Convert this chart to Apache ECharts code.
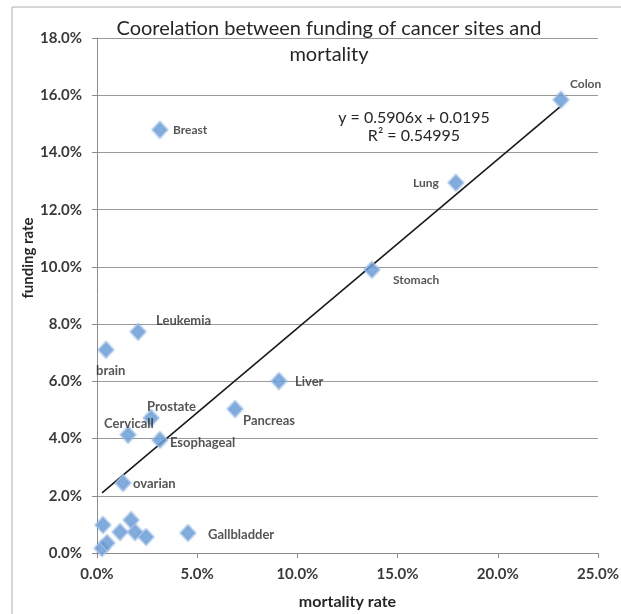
<!DOCTYPE html>
<html>
<head>
<meta charset="utf-8">
<script src="https://cdn.jsdelivr.net/npm/echarts@6/dist/echarts.min.js"></script>
<style>
  html, body { margin: 0; padding: 0; background: #fff; }
  #chart { width: 621px; height: 614px; }
</style>
</head>
<body>
<div id="chart"></div>
<script>
// Cancer sites: mortality share vs. funding share (percent)
var sites = ['Colon', 'Breast', 'Lung', 'Stomach', 'Leukemia', 'brain', 'Liver', 'Pancreas',
             'Prostate', 'Cervicall', 'Esophageal', 'ovarian', 'Gallbladder',
             '', '', '', '', '', '', ''];
var mortality = [23.15, 3.14, 17.91, 13.72, 2.05, 0.45, 9.08, 6.89,
                 2.70, 1.55, 3.14, 1.30, 4.54,
                 0.30, 0.25, 0.50, 1.15, 1.70, 1.90, 2.45];
var funding = [15.84, 14.79, 12.94, 9.90, 7.73, 7.10, 6.01, 5.03,
               4.72, 4.13, 3.95, 2.45, 0.70,
               0.98, 0.17, 0.35, 0.73, 1.15, 0.73, 0.56];

// Linear trend line as reported on the chart
var trendSlope = 0.5906;
var trendIntercept = 1.95; // 0.0195 expressed in percent
var trendText = ['y = 0.5906x + 0.0195', 'R\u00B2 = 0.54995'];

var xTicks = { min: 0, max: 25, interval: 5 };
var yTicks = { min: 0, max: 18, interval: 2 };

// Label placement per site: [dx, dy] from the marker centre, alignment and size
var labelPlacement = {
  'Colon':       { offset: [9, -16], align: 'left', size: 12 },
  'Breast':      { offset: [13, 0], align: 'left', size: 12 },
  'Lung':        { offset: [-17, 0], align: 'right', size: 12 },
  'Stomach':     { offset: [21, 10], align: 'left', size: 12 },
  'Leukemia':    { offset: [18, -11], align: 'left', size: 13 },
  'brain':       { offset: [-10, 21], align: 'left', size: 13 },
  'Liver':       { offset: [16, 1], align: 'left', size: 13 },
  'Pancreas':    { offset: [8, 12], align: 'left', size: 13 },
  'Prostate':    { offset: [-4, -11], align: 'left', size: 13 },
  'Cervicall':   { offset: [-24, -11], align: 'left', size: 13 },
  'Esophageal':  { offset: [10, 3], align: 'left', size: 13 },
  'ovarian':     { offset: [10, 1], align: 'left', size: 13 },
  'Gallbladder': { offset: [20, 2], align: 'left', size: 13 }
};

var FONT = 'Lato, "Open Sans", sans-serif';

var points = sites.map(function (name, i) {
  var item = { name: name, value: [mortality[i], funding[i]] };
  var p = labelPlacement[name];
  if (name && p) {
    item.label = {
      show: true,
      position: 'inside',
      align: p.align,
      verticalAlign: 'middle',
      offset: p.offset,
      fontSize: p.size,
      formatter: name
    };
  }
  return item;
});

var xMinData = Math.min.apply(null, mortality);
var xMaxData = Math.max.apply(null, mortality);
var trendData = [
  [xMinData, trendSlope * xMinData + trendIntercept],
  [xMaxData, trendSlope * xMaxData + trendIntercept]
];

var chart = echarts.init(document.getElementById('chart'), null, { renderer: 'canvas' });

var pctFmt = function (v) { return v.toFixed(1) + '%'; };

chart.setOption({
  backgroundColor: '#ffffff',
  animation: false,
  grid: { left: 97, right: 23, top: 38, bottom: 61, containLabel: false, outerBoundsMode: 'none' },
  xAxis: {
    type: 'value',
    min: xTicks.min, max: xTicks.max, interval: xTicks.interval,
    name: 'mortality rate',
    nameLocation: 'middle',
    nameGap: 41,
    nameTextStyle: { fontFamily: FONT, fontSize: 16, fontWeight: 'bold', color: '#262626' },
    axisLine: { show: true, lineStyle: { color: '#8c8c8c', width: 1 } },
    axisTick: { show: true, length: 5, lineStyle: { color: '#8c8c8c' } },
    axisLabel: { formatter: pctFmt, margin: 14, fontFamily: FONT, fontSize: 15, fontWeight: 'bold', color: '#3a3a3a' },
    splitLine: { show: false }
  },
  yAxis: {
    type: 'value',
    min: yTicks.min, max: yTicks.max, interval: yTicks.interval,
    axisLine: { show: true, lineStyle: { color: '#8c8c8c', width: 1 } },
    axisTick: { show: true, length: 5, lineStyle: { color: '#8c8c8c' } },
    axisLabel: { formatter: pctFmt, margin: 15, fontFamily: FONT, fontSize: 15, fontWeight: 'bold', color: '#3a3a3a' },
    splitLine: { show: true, lineStyle: { color: '#9a9a9a', width: 1 } }
  },
  series: [
    {
      type: 'line',
      data: trendData,
      symbol: 'none',
      lineStyle: { color: '#1a1a1a', width: 1.6 },
      z: 3,
      silent: true
    },
    {
      type: 'scatter',
      data: points,
      symbol: 'diamond',
      symbolSize: [15, 16],
      itemStyle: {
        color: '#6fa3dc',
        borderColor: '#a9c9ee',
        borderWidth: 1.5,
        shadowColor: 'rgba(60,100,160,0.35)',
        shadowBlur: 2
      },
      label: {
        show: false,
        fontFamily: FONT,
        fontSize: 13,
        fontWeight: 'bold',
        color: '#2a2a2a'
      },
      z: 4
    }
  ],
  graphic: [
    {
      type: 'rect',
      shape: { x: 12, y: 7, width: 640, height: 640 },
      style: { fill: 'none', stroke: '#b0b0b0', lineWidth: 1 },
      silent: true, z: -1
    },
    {
      type: 'text',
      style: {
        text: 'Coorelation between funding of cancer sites and',
        x: 329, y: 29, align: 'center', verticalAlign: 'middle',
        font: '20px ' + FONT, fill: '#262626'
      }
    },
    {
      type: 'text',
      style: {
        text: 'mortality',
        x: 329, y: 55, align: 'center', verticalAlign: 'middle',
        font: '20px ' + FONT, fill: '#262626'
      }
    },
    {
      type: 'text',
      rotation: Math.PI / 2,
      x: 28, y: 258,
      style: {
        text: 'funding rate',
        x: 0, y: 0, align: 'center', verticalAlign: 'middle',
        font: 'bold 15px ' + FONT, fill: '#262626'
      }
    },
    {
      type: 'text',
      style: {
        text: trendText[0],
        x: 414, y: 118, align: 'center', verticalAlign: 'middle',
        font: '16px ' + FONT, fill: '#262626'
      }
    },
    {
      type: 'text',
      style: {
        text: trendText[1],
        x: 414, y: 136, align: 'center', verticalAlign: 'middle',
        font: '16px ' + FONT, fill: '#262626'
      }
    }
  ]
});
</script>
</body>
</html>
